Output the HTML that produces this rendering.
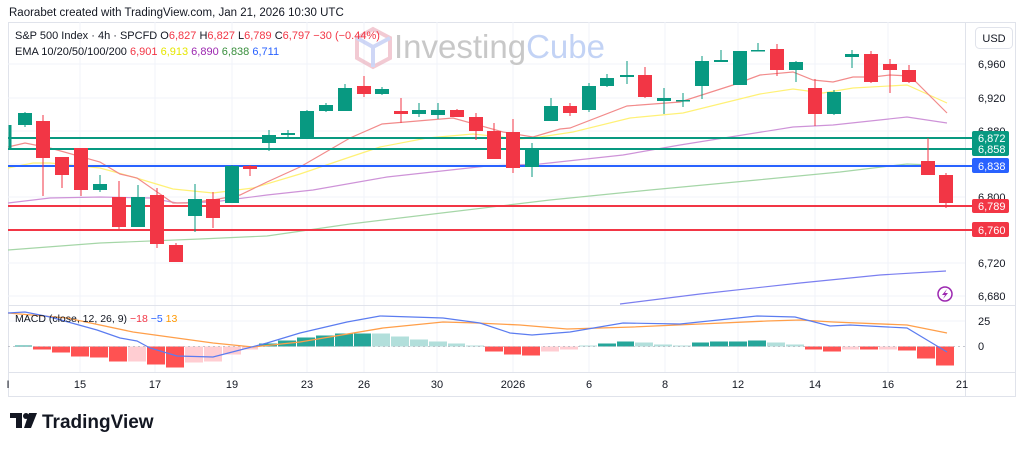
<!DOCTYPE html>
<html><head><meta charset="utf-8"><style>
body{margin:0;background:#fff;width:1024px;height:448px;overflow:hidden;font-family:"Liberation Sans",sans-serif}
svg text{font-family:"Liberation Sans",sans-serif}
</style></head><body>
<svg width="1024" height="448" xmlns="http://www.w3.org/2000/svg">
<text x="9" y="16" font-size="11.5" fill="#131722">Raorabet created with TradingView.com, Jan 21, 2026 10:30 UTC</text>
<rect x="8.5" y="22.5" width="1007" height="374" fill="none" stroke="#e0e3eb"/>
<!-- grid -->
<g stroke="#f0f3fa" stroke-width="1">
<line x1="8" y1="64" x2="965" y2="64"/><line x1="8" y1="98" x2="965" y2="98"/><line x1="8" y1="131" x2="965" y2="131"/><line x1="8" y1="164" x2="965" y2="164"/><line x1="8" y1="197" x2="965" y2="197"/><line x1="8" y1="230" x2="965" y2="230"/><line x1="8" y1="263" x2="965" y2="263"/><line x1="8" y1="296" x2="965" y2="296"/>
<line x1="8" y1="321" x2="965" y2="321"/>
<line x1="80" y1="22" x2="80" y2="372"/><line x1="155" y1="22" x2="155" y2="372"/><line x1="232" y1="22" x2="232" y2="372"/><line x1="307" y1="22" x2="307" y2="372"/><line x1="364" y1="22" x2="364" y2="372"/><line x1="437" y1="22" x2="437" y2="372"/><line x1="513" y1="22" x2="513" y2="372"/><line x1="589" y1="22" x2="589" y2="372"/><line x1="665" y1="22" x2="665" y2="372"/><line x1="738" y1="22" x2="738" y2="372"/><line x1="815" y1="22" x2="815" y2="372"/><line x1="888" y1="22" x2="888" y2="372"/>
</g>
<line x1="965.5" y1="22" x2="965.5" y2="396" stroke="#e0e3eb"/>
<line x1="8" y1="305.5" x2="1015" y2="305.5" stroke="#e0e3eb"/>
<line x1="8" y1="372.5" x2="1015" y2="372.5" stroke="#e0e3eb"/>
<!-- watermark -->
<g opacity="0.55">
<path d="M373 29 L390 38 L390 58 L373 67 L357 58 L357 38 Z" fill="none" stroke="#e8a0b0" stroke-width="4"/>
<path d="M357 38 L373 47 L390 38 M373 47 L373 67" fill="none" stroke="#a8b8f0" stroke-width="4"/>
</g>
<text x="394" y="58" font-size="33" fill="#c8c8c8">Investing<tspan fill="#c3d3f5">Cube</tspan></text>
<!-- EMA lines -->
<g fill="none" stroke-width="1.2">
<polyline stroke="#a5d6a7" points="8,250 100,243 200,239 267,236 350,224 450,212 550,200 650,190 757,180 840,172 907,164 930,165"/>
<polyline stroke="#7b7ff0" points="620,304 700,294 800,283 880,275 946,271"/>
<polyline stroke="#ce93d8" points="8,203 50,198 100,197 150,198 177,203 213,202 267,195 313,190 387,177 487,166 540,164 623,155 680,145 793,127 833,125 907,117 947,123"/>
<polyline stroke="#fff176" points="8,168 33,163 50,163 100,168 133,177 173,189 213,193 253,188 300,174 350,157 380,147 427,138 473,134 520,139 540,137 573,132 630,118 683,113 760,94 793,89 823,93 853,88 907,85 947,103"/>
<polyline stroke="#f28b8b" points="8,147 25,143 50,148 100,162 120,174 137,178 173,203 187,203 213,200 240,195 267,182 300,167 350,138 382,124 453,118 503,132 533,137 560,129 570,128 627,106 680,102 733,85 760,75 793,72 813,80 833,82 853,77 873,77 890,75 910,76 947,113"/>
</g>
<!-- horizontal levels -->
<line x1="8" y1="138" x2="972" y2="138" stroke="#089981" stroke-width="2"/>
<line x1="8" y1="149" x2="972" y2="149" stroke="#089981" stroke-width="2"/>
<line x1="8" y1="166" x2="972" y2="166" stroke="#2962ff" stroke-width="2"/>
<line x1="8" y1="206" x2="972" y2="206" stroke="#f23645" stroke-width="2"/>
<line x1="8" y1="230" x2="972" y2="230" stroke="#f23645" stroke-width="2"/>
<line x1="10" y1="125" x2="10" y2="149" stroke="#089981" stroke-width="3"/>
<!-- candles -->
<g id="c"></g>
<!-- MACD histogram -->
<g id="h"></g>
<line x1="8" y1="346.5" x2="965" y2="346.5" stroke="#b2b5be" stroke-dasharray="2,3" stroke-width="0.8"/>
<polyline fill="none" stroke="#ff9f4a" stroke-width="1.3" points="8,313 67,318 133,332 213,343 253,347 300,342 383,328 443,322 477,323 520,325 567,329 633,327 700,324 767,321 800,320 833,322 907,325 947,333"/>
<polyline fill="none" stroke="#5b7cf0" stroke-width="1.2" points="8,313 25,312 50,317 97,330 120,338 137,341 150,348 177,356 213,357 240,350 267,343 300,333 347,322 380,316 443,318 480,323 510,333 532,335 570,332 623,323 680,324 757,316 795,317 830,326 850,325 907,328 947,352"/>
<!-- legend -->
<text x="15" y="39" font-size="11" fill="#131722">S&amp;P 500 Index · 4h · SPCFD  O<tspan fill="#f23645">6,827</tspan>  H<tspan fill="#f23645">6,827</tspan>  L<tspan fill="#f23645">6,789</tspan>  C<tspan fill="#f23645">6,797</tspan>  <tspan fill="#f23645">−30 (−0.44%)</tspan></text>
<text x="15" y="55" font-size="11" fill="#131722">EMA 10/20/50/100/200  <tspan fill="#f23645">6,901</tspan>  <tspan fill="#e6e600">6,913</tspan>  <tspan fill="#9c27b0">6,890</tspan>  <tspan fill="#388e3c">6,838</tspan>  <tspan fill="#2962ff">6,711</tspan></text>
<text x="15" y="322" font-size="10.5" fill="#131722">MACD (close, 12, 26, 9)  <tspan fill="#f23645">−18</tspan>  <tspan fill="#2962ff">−5</tspan>  <tspan fill="#ff9800">13</tspan></text>
<!-- right axis -->
<rect x="975.5" y="27.5" width="37" height="21" rx="4" fill="#fff" stroke="#e0e3eb"/>
<text x="994" y="42" font-size="11" fill="#131722" text-anchor="middle">USD</text>
<g font-size="11" fill="#131722">
<text x="978" y="68">6,960</text><text x="978" y="102">6,920</text><text x="978" y="135">6,880</text><text x="978" y="201">6,800</text><text x="978" y="267">6,720</text><text x="978" y="300">6,680</text>
<text x="978" y="325">25</text><text x="978" y="350">0</text>
</g>
<rect x="972" y="131" width="37" height="25" rx="2" fill="#089981"/>
<rect x="972" y="158" width="37" height="15" rx="2" fill="#2962ff"/>
<rect x="972" y="199" width="37" height="14" rx="2" fill="#f23645"/>
<rect x="972" y="222" width="37" height="15" rx="2" fill="#f23645"/>
<g font-size="11" fill="#fff">
<text x="978" y="142">6,872</text><text x="978" y="153">6,858</text><text x="978" y="170">6,838</text><text x="978" y="210">6,789</text><text x="978" y="234">6,760</text>
</g>
<circle cx="945" cy="294" r="7" fill="none" stroke="#9c27b0" stroke-width="1.5"/>
<path d="M947 289 L942 295 L945 295 L943 299 L948 293 L945 293 Z" fill="#9c27b0"/>
<!-- time axis -->
<g font-size="11" fill="#131722" text-anchor="middle">
<text x="8" y="388">I</text><text x="80" y="388">15</text><text x="155" y="388">17</text><text x="232" y="388">19</text><text x="307" y="388">23</text><text x="364" y="388">26</text><text x="437" y="388">30</text><text x="513" y="388">2026</text><text x="589" y="388">6</text><text x="665" y="388">8</text><text x="738" y="388">12</text><text x="815" y="388">14</text><text x="888" y="388">16</text><text x="962" y="388">21</text>
</g>
<!-- TV logo -->
<path d="M10 413 H22 V428 H16 V418 H10 Z" fill="#131722"/>
<circle cx="26" cy="416" r="3" fill="#131722"/>
<path d="M29 413 H37 L31 428 H24 Z" fill="#131722"/>
<text x="42" y="428" font-size="19" font-weight="bold" fill="#131722">TradingView</text>
</svg>
<script>
var C=[[10,'g',125,149,125,149],[25,'g',113,125,112,127],[43,'r',121,158,115,196],[62,'r',157,175,157,188],[81,'r',148,190,148,196],[100,'g',184,190,175,192],[119,'r',197,227,181,230],[138,'g',197,227,185,227],[157,'r',195,244,188,248],[176,'r',245,262,243,262],[195,'g',199,216,184,232],[213,'r',199,218,192,228],[232,'g',166,203,165,203],[250,'r',166,169,165,176],[269,'g',135,143,130,151],[288,'g',133,135,130,137],[307,'g',111,138,110,138],[345,'g',88,111,84,111],[364,'r',86,94,76,97],[382,'g',89,94,87,95],[401,'r',111,114,98,123],[419,'g',110,114,103,117],[438,'g',110,115,103,119],[457,'r',110,117,109,117],[476,'r',117,131,113,140],[494,'r',131,159,123,159],[513,'r',132,168,119,173],[532,'g',149,167,143,177],[551,'g',106,121,98,121],[570,'r',106,113,103,116],[589,'g',86,110,83,112],[607,'g',78,86,74,87],[627,'g',75,77,61,84],[645,'r',75,97,67,98],[664,'g',98,101,88,114],[683,'g',100,101,93,107],[702,'g',61,86,56,99],[721,'g',60,62,50,62],[740,'g',51,85,51,85],[758,'g',50,51,43,51],[777,'r',49,70,44,76],[796,'g',62,70,61,82],[815,'r',88,114,79,126],[834,'g',92,114,90,115],[852,'g',54,57,50,68],[871,'r',54,82,51,83],[890,'r',64,70,59,93],[909,'r',70,82,65,83],[928,'r',161,175,138,175],[946,'r',175,203,173,208]];
// candle 17 (x=326) missing from data? add between 307 and 345
C.push([326,'g',105,111,103,112]);
var s='';C.forEach(function(c){var col=c[1]=='g'?'#089981':'#f23645';if(c[0]<=10){return;}
s+='<line x1="'+c[0]+'" y1="'+c[4]+'" x2="'+c[0]+'" y2="'+c[5]+'" stroke="'+col+'" stroke-width="1"/>';
s+='<rect x="'+(c[0]-7)+'" y="'+c[2]+'" width="14" height="'+Math.max(1.5,c[3]-c[2])+'" fill="'+col+'"/>';});
document.getElementById('c').innerHTML=s;
var D='#26a69a',L='#b2dfdb',R='#ff5252',P='#ffcdd2';
var H=[[15,33,D,-1],[33,52,R,3],[52,71,R,6],[71,90,R,10],[90,109,R,11],[109,128,R,15],[128,147,P,15],[147,166,R,18],[166,185,R,21],[185,204,P,16],[204,223,P,15],[223,242,P,8],[242,259,P,3],[259,278,D,-3],[278,297,D,-6],[297,316,D,-9],[316,335,D,-11],[335,354,D,-13],[354,372,D,-13],[372,391,L,-13],[391,410,L,-10],[410,429,L,-7],[429,448,L,-5],[448,466,L,-3],[466,485,L,-1],[485,504,R,5],[504,522,R,8],[522,541,R,9],[541,560,P,5],[560,579,P,3],[579,598,L,-1],[598,617,D,-3],[617,635,D,-5],[635,654,L,-4],[654,673,L,-2],[673,692,L,-1],[692,710,D,-4],[710,729,D,-5],[729,748,D,-5],[748,767,D,-6],[767,786,L,-4],[786,805,L,-2],[805,823,R,3],[823,842,R,5],[842,860,P,3],[860,879,R,3],[879,898,P,3],[898,917,R,4],[917,936,R,12],[936,955,R,19]];
var t='';H.forEach(function(h){var y=h[3]<0?346.5+h[3]:346.5;t+='<rect x="'+h[0]+'" y="'+y+'" width="'+(h[1]-h[0]-1)+'" height="'+Math.abs(h[3])+'" fill="'+h[2]+'"/>';});
document.getElementById('h').innerHTML=t;
</script>
</body></html>
